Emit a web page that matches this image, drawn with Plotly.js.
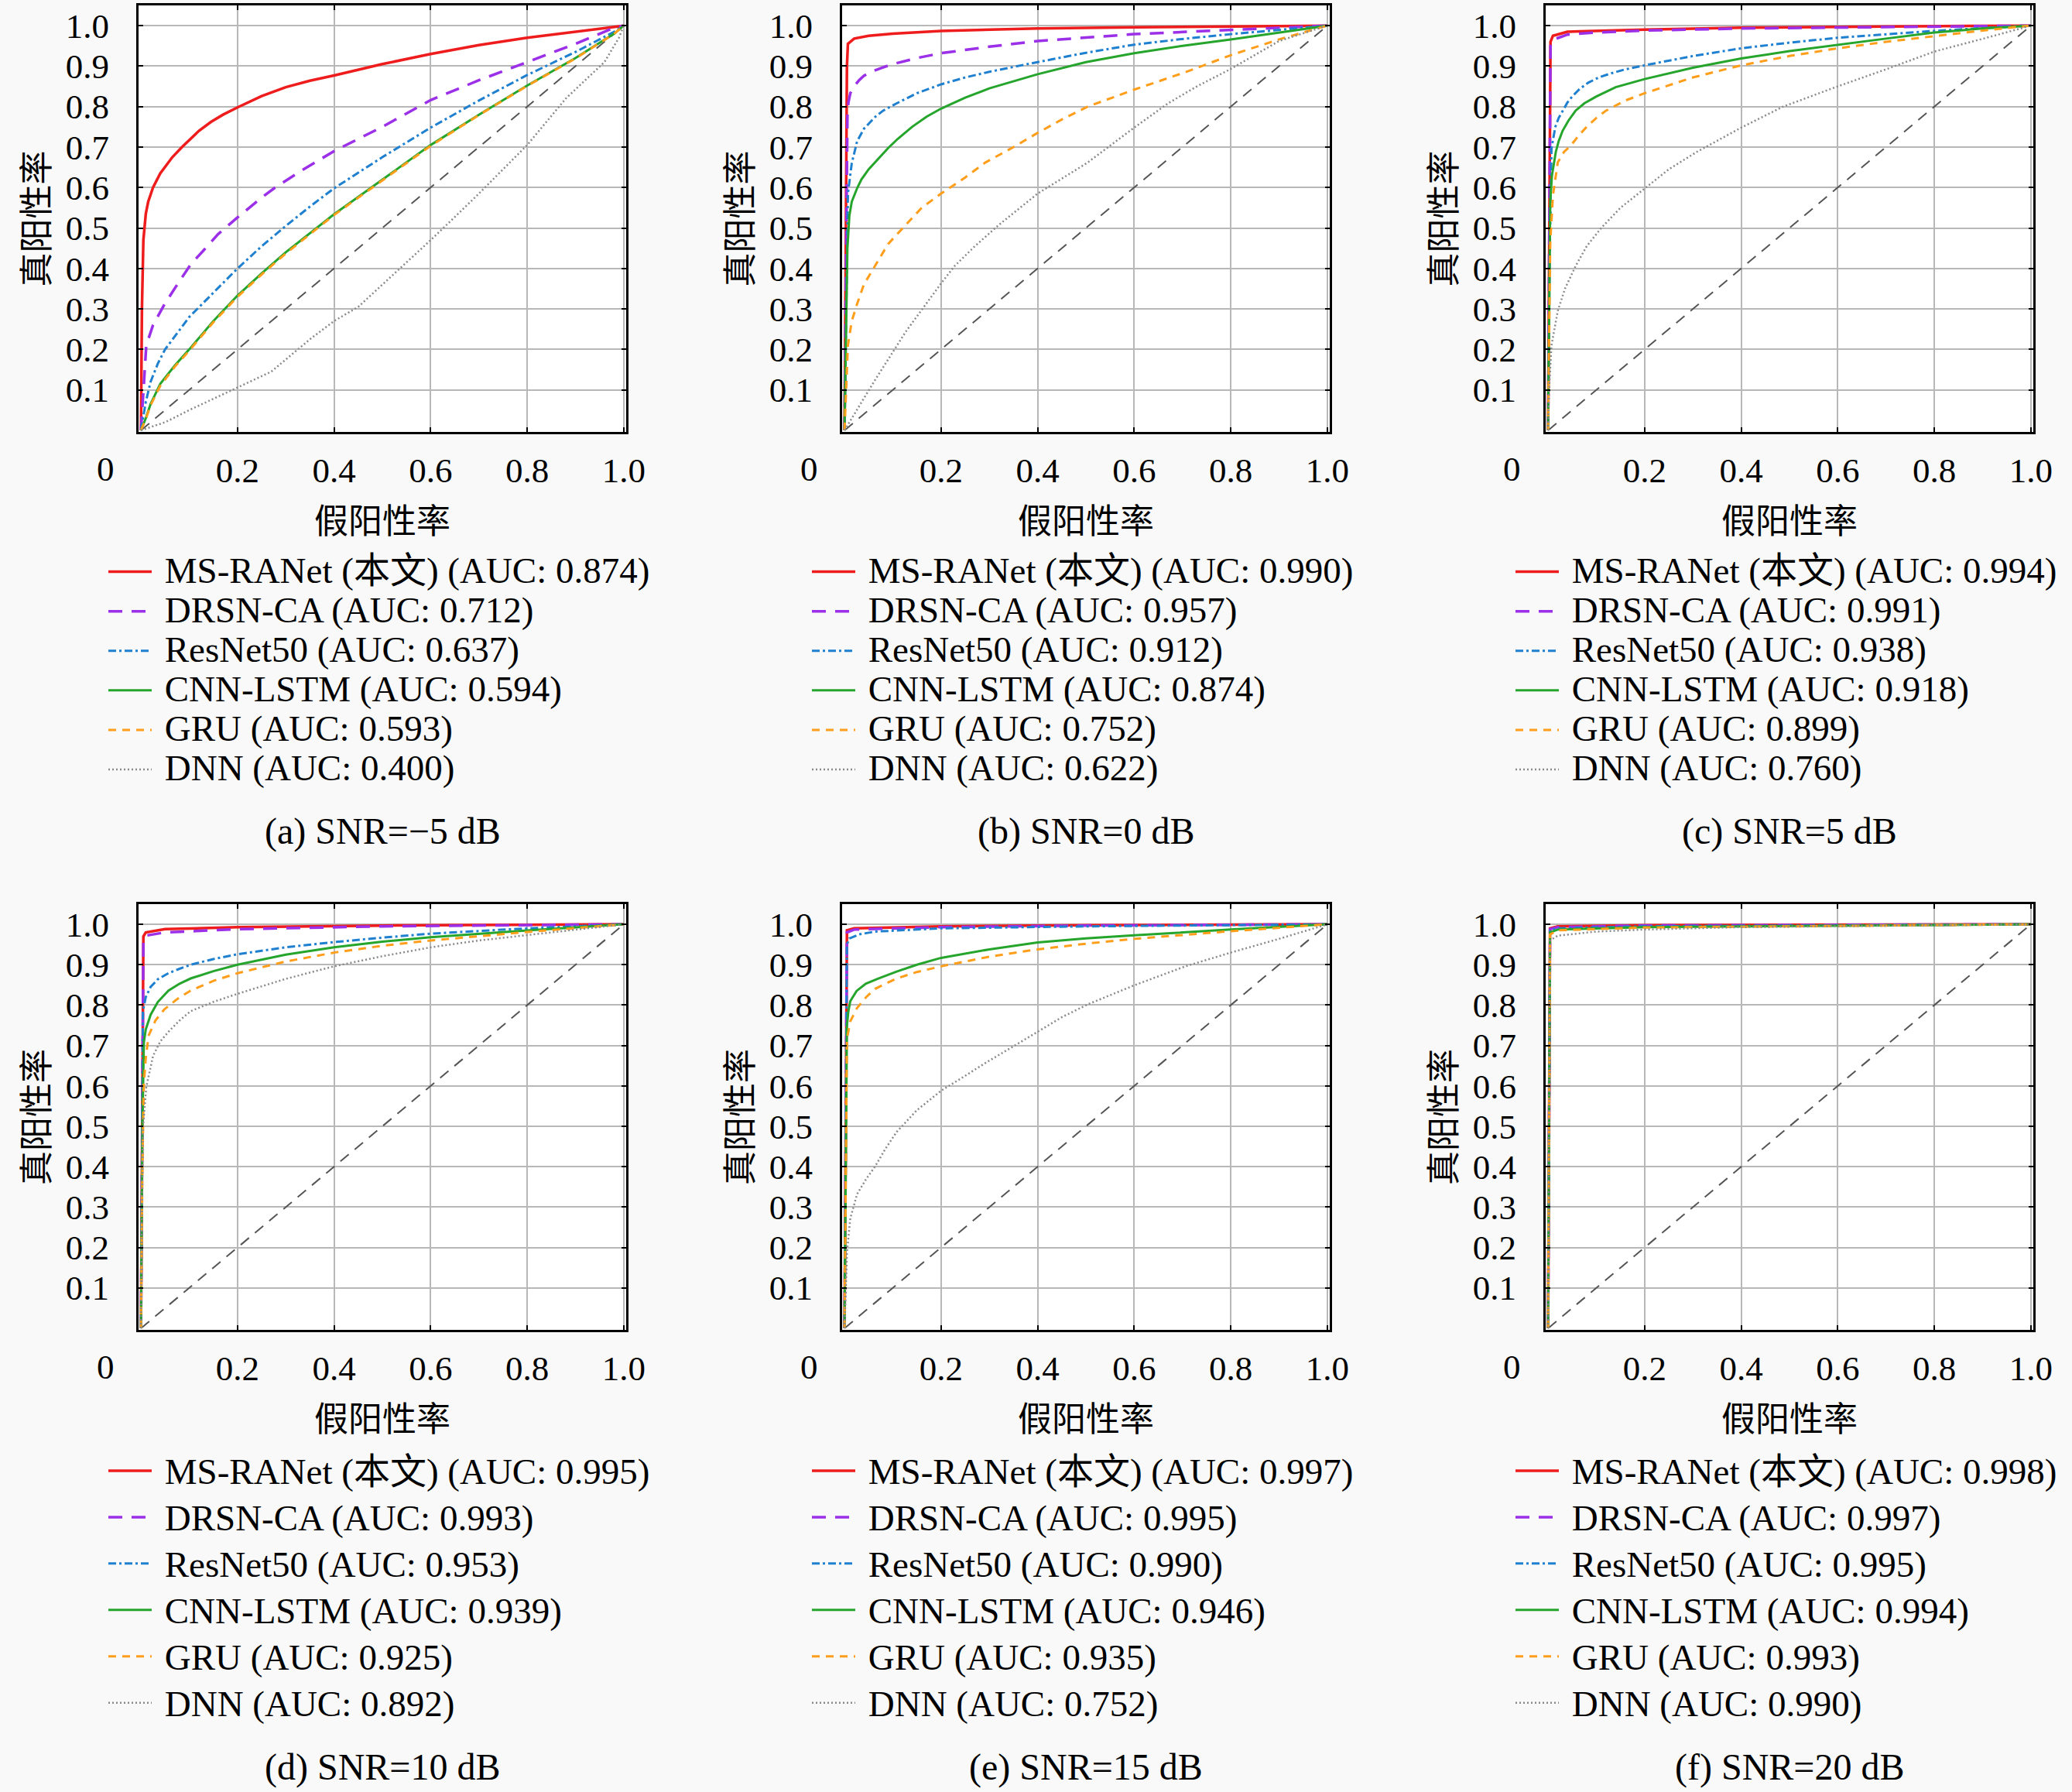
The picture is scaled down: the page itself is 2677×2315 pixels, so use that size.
<!DOCTYPE html>
<html>
<head>
<meta charset="utf-8">
<script src="https://cdn.plot.ly/plotly-3.0.1.min.js"></script>
<style>
  html, body { margin: 0; padding: 0; background: #f9f9f9; }
  #chart { width: 2677px; height: 2315px; }
</style>
</head>
<body>
<div id="chart"></div>
<script>
// legend order of the models
const models = ['MS-RANet (本文)', 'DRSN-CA', 'ResNet50', 'CNN-LSTM', 'GRU', 'DNN'];
const captions = ['(a) SNR=−5 dB', '(b) SNR=0 dB', '(c) SNR=5 dB',
                  '(d) SNR=10 dB', '(e) SNR=15 dB', '(f) SNR=20 dB'];
const xTickVals = [0.2, 0.4, 0.6, 0.8, 1.0];
const xTickText = ['0.2', '0.4', '0.6', '0.8', '1.0'];
const yTickVals = [0.1, 0.2, 0.3, 0.4, 0.5, 0.6, 0.7, 0.8, 0.9, 1.0];
const yTickText = ['0.1', '0.2', '0.3', '0.4', '0.5', '0.6', '0.7', '0.8', '0.9', '1.0'];
const chance = [[0, 0], [1, 1]];

// AUC per panel, in model order
const aucA = [0.874, 0.712, 0.637, 0.594, 0.593, 0.400];
const aucB = [0.990, 0.957, 0.912, 0.874, 0.752, 0.622];
const aucC = [0.994, 0.991, 0.938, 0.918, 0.899, 0.760];
const aucD = [0.995, 0.993, 0.953, 0.939, 0.925, 0.892];
const aucE = [0.997, 0.995, 0.990, 0.946, 0.935, 0.752];
const aucF = [0.998, 0.997, 0.995, 0.994, 0.993, 0.990];

// ROC points [FPR, TPR]
// (a) SNR=-5 dB
const rocA_msranet = [[0,0],[0.002,0.3],[0.005,0.47],[0.01,0.535],[0.015,0.565],[0.025,0.6],[0.04,0.635],[0.05,0.652],[0.065,0.675],[0.085,0.70],[0.1,0.718],[0.12,0.74],[0.145,0.762],[0.17,0.78],[0.2,0.798],[0.25,0.826],[0.3,0.848],[0.35,0.864],[0.4,0.877],[0.5,0.905],[0.6,0.93],[0.7,0.952],[0.8,0.97],[0.9,0.985],[1,1]];
const rocA_drsn = [[0,0],[0.006,0.124],[0.011,0.21],[0.025,0.26],[0.048,0.31],[0.075,0.36],[0.103,0.41],[0.13,0.445],[0.16,0.485],[0.2,0.526],[0.25,0.575],[0.278,0.60],[0.33,0.64],[0.4,0.69],[0.5,0.75],[0.6,0.816],[0.7,0.865],[0.8,0.91],[0.9,0.955],[0.98,0.995],[1,1]];
const rocA_resnet = [[0,0],[0.01,0.07],[0.02,0.12],[0.035,0.165],[0.05,0.2],[0.075,0.24],[0.1,0.28],[0.15,0.34],[0.2,0.40],[0.25,0.455],[0.3,0.505],[0.35,0.553],[0.4,0.598],[0.5,0.675],[0.6,0.748],[0.7,0.815],[0.8,0.878],[0.9,0.935],[0.98,0.985],[1,1]];
const rocA_cnnlstm = [[0,0],[0.01,0.03],[0.02,0.065],[0.04,0.115],[0.07,0.16],[0.1,0.2],[0.15,0.27],[0.2,0.333],[0.25,0.388],[0.3,0.44],[0.4,0.534],[0.5,0.62],[0.6,0.705],[0.7,0.78],[0.8,0.852],[0.9,0.92],[0.98,0.98],[1,1]];
const rocA_gru = [[0,0],[0.01,0.028],[0.02,0.062],[0.04,0.11],[0.07,0.157],[0.1,0.197],[0.15,0.267],[0.2,0.33],[0.25,0.385],[0.3,0.437],[0.4,0.532],[0.5,0.618],[0.6,0.703],[0.7,0.779],[0.8,0.851],[0.9,0.919],[0.98,0.98],[1,1]];
const rocA_dnn = [[0,0],[0.05,0.02],[0.1,0.05],[0.15,0.078],[0.2,0.105],[0.27,0.145],[0.35,0.225],[0.4,0.27],[0.45,0.305],[0.5,0.36],[0.55,0.415],[0.6,0.47],[0.65,0.527],[0.7,0.585],[0.75,0.645],[0.8,0.705],[0.88,0.82],[0.96,0.91],[0.99,0.97],[1,1]];
// (b) SNR=0 dB
const rocB_msranet = [[0,0],[0.003,0.5],[0.005,0.9],[0.007,0.955],[0.02,0.968],[0.05,0.975],[0.1,0.98],[0.2,0.987],[0.4,0.993],[0.6,0.996],[0.8,0.998],[1,1]];
const rocB_drsn = [[0,0],[0.004,0.6],[0.006,0.78],[0.008,0.81],[0.012,0.833],[0.02,0.85],[0.03,0.865],[0.04,0.876],[0.053,0.885],[0.075,0.895],[0.1,0.905],[0.15,0.92],[0.2,0.932],[0.3,0.948],[0.4,0.962],[0.6,0.979],[0.8,0.99],[1,1]];
const rocB_resnet = [[0,0],[0.003,0.3],[0.007,0.585],[0.015,0.66],[0.026,0.714],[0.04,0.745],[0.063,0.774],[0.08,0.79],[0.108,0.808],[0.15,0.833],[0.2,0.855],[0.25,0.872],[0.3,0.886],[0.4,0.91],[0.5,0.933],[0.6,0.953],[0.7,0.967],[0.8,0.979],[0.9,0.99],[1,1]];
const rocB_cnnlstm = [[0,0],[0.004,0.3],[0.006,0.45],[0.01,0.53],[0.015,0.565],[0.026,0.598],[0.035,0.62],[0.05,0.645],[0.07,0.672],[0.09,0.697],[0.11,0.72],[0.14,0.75],[0.17,0.775],[0.2,0.795],[0.25,0.822],[0.3,0.845],[0.4,0.88],[0.5,0.91],[0.6,0.932],[0.7,0.95],[0.8,0.966],[0.9,0.983],[1,1]];
const rocB_gru = [[0,0],[0.003,0.1],[0.007,0.21],[0.015,0.27],[0.026,0.312],[0.04,0.36],[0.063,0.406],[0.09,0.46],[0.127,0.508],[0.16,0.55],[0.2,0.585],[0.25,0.625],[0.292,0.662],[0.35,0.7],[0.4,0.735],[0.45,0.768],[0.504,0.8],[0.6,0.842],[0.706,0.885],[0.8,0.927],[0.9,0.966],[1,1]];
const rocB_dnn = [[0,0],[0.03,0.06],[0.063,0.124],[0.127,0.244],[0.2,0.363],[0.228,0.406],[0.27,0.455],[0.32,0.508],[0.4,0.585],[0.504,0.662],[0.6,0.748],[0.67,0.808],[0.73,0.85],[0.8,0.893],[0.9,0.962],[1,1]];
// (c) SNR=5 dB
const rocC_msranet = [[0,0],[0.003,0.6],[0.005,0.96],[0.01,0.975],[0.04,0.985],[0.2,0.99],[0.4,0.995],[0.7,0.998],[1,1]];
const rocC_drsn = [[0,0],[0.003,0.6],[0.005,0.95],[0.01,0.965],[0.04,0.978],[0.1,0.983],[0.2,0.988],[0.4,0.993],[0.7,0.997],[1,1]];
const rocC_resnet = [[0,0],[0.003,0.4],[0.007,0.697],[0.015,0.75],[0.022,0.772],[0.03,0.79],[0.04,0.81],[0.05,0.825],[0.065,0.843],[0.083,0.859],[0.105,0.872],[0.13,0.882],[0.16,0.892],[0.2,0.902],[0.3,0.925],[0.4,0.944],[0.5,0.958],[0.6,0.97],[0.7,0.979],[0.8,0.987],[0.9,0.994],[1,1]];
const rocC_cnnlstm = [[0,0],[0.003,0.4],[0.0045,0.568],[0.008,0.63],[0.016,0.688],[0.022,0.715],[0.03,0.74],[0.042,0.765],[0.057,0.79],[0.075,0.808],[0.1,0.825],[0.14,0.848],[0.2,0.868],[0.3,0.896],[0.4,0.919],[0.5,0.937],[0.6,0.953],[0.7,0.968],[0.8,0.983],[0.9,0.993],[1,1]];
const rocC_gru = [[0,0],[0.002,0.2],[0.0045,0.466],[0.01,0.58],[0.02,0.662],[0.033,0.688],[0.048,0.705],[0.063,0.728],[0.08,0.75],[0.1,0.772],[0.12,0.79],[0.16,0.815],[0.2,0.833],[0.3,0.872],[0.4,0.902],[0.5,0.925],[0.6,0.944],[0.7,0.96],[0.8,0.974],[0.9,0.988],[1,1]];
const rocC_dnn = [[0,0],[0.002,0.1],[0.007,0.21],[0.02,0.295],[0.035,0.35],[0.057,0.406],[0.08,0.455],[0.11,0.5],[0.15,0.55],[0.2,0.598],[0.25,0.645],[0.308,0.688],[0.4,0.748],[0.487,0.8],[0.6,0.85],[0.702,0.893],[0.8,0.936],[0.908,0.97],[1,1]];
// (d) SNR=10 dB
const rocD_msranet = [[0,0],[0.003,0.6],[0.005,0.97],[0.01,0.98],[0.05,0.988],[0.2,0.993],[0.5,0.997],[1,1]];
const rocD_drsn = [[0,0],[0.003,0.6],[0.005,0.96],[0.01,0.972],[0.05,0.98],[0.2,0.988],[0.5,0.995],[1,1]];
const rocD_resnet = [[0,0],[0.002,0.5],[0.004,0.785],[0.01,0.82],[0.02,0.845],[0.035,0.864],[0.057,0.879],[0.08,0.89],[0.103,0.9],[0.15,0.914],[0.2,0.926],[0.3,0.943],[0.4,0.956],[0.5,0.967],[0.6,0.977],[0.8,0.99],[1,1]];
const rocD_cnnlstm = [[0,0],[0.003,0.5],[0.006,0.708],[0.01,0.74],[0.02,0.776],[0.035,0.808],[0.057,0.836],[0.08,0.853],[0.103,0.866],[0.15,0.884],[0.2,0.9],[0.3,0.925],[0.4,0.943],[0.5,0.957],[0.6,0.968],[0.8,0.985],[1,1]];
const rocD_gru = [[0,0],[0.003,0.4],[0.006,0.605],[0.01,0.67],[0.016,0.725],[0.03,0.762],[0.048,0.789],[0.075,0.815],[0.103,0.836],[0.15,0.86],[0.2,0.879],[0.3,0.908],[0.4,0.93],[0.5,0.947],[0.6,0.96],[0.8,0.981],[1,1]];
const rocD_dnn = [[0,0],[0.002,0.3],[0.004,0.494],[0.011,0.597],[0.025,0.674],[0.04,0.71],[0.057,0.734],[0.08,0.762],[0.103,0.785],[0.15,0.808],[0.2,0.828],[0.3,0.865],[0.4,0.896],[0.5,0.921],[0.6,0.943],[0.7,0.96],[0.8,0.973],[0.9,0.987],[1,1]];
// (e) SNR=15 dB
const rocE_msranet = [[0,0],[0.003,0.6],[0.005,0.985],[0.02,0.99],[0.2,0.995],[0.5,0.998],[1,1]];
const rocE_drsn = [[0,0],[0.003,0.6],[0.005,0.98],[0.02,0.987],[0.2,0.993],[0.5,0.997],[1,1]];
const rocE_resnet = [[0,0],[0.003,0.5],[0.005,0.95],[0.01,0.965],[0.03,0.975],[0.063,0.982],[0.2,0.99],[0.5,0.995],[1,1]];
const rocE_cnnlstm = [[0,0],[0.003,0.5],[0.005,0.75],[0.008,0.785],[0.012,0.81],[0.025,0.835],[0.044,0.853],[0.07,0.866],[0.108,0.883],[0.15,0.9],[0.2,0.917],[0.3,0.938],[0.4,0.955],[0.5,0.965],[0.6,0.973],[0.8,0.987],[1,1]];
const rocE_gru = [[0,0],[0.003,0.4],[0.005,0.716],[0.012,0.76],[0.026,0.793],[0.045,0.82],[0.063,0.84],[0.085,0.853],[0.108,0.866],[0.15,0.882],[0.2,0.896],[0.3,0.92],[0.4,0.938],[0.5,0.952],[0.6,0.964],[0.8,0.983],[1,1]];
const rocE_dnn = [[0,0],[0.003,0.1],[0.005,0.187],[0.012,0.272],[0.026,0.332],[0.045,0.37],[0.063,0.4],[0.085,0.445],[0.108,0.486],[0.15,0.54],[0.2,0.588],[0.25,0.625],[0.292,0.657],[0.35,0.698],[0.4,0.734],[0.45,0.77],[0.504,0.802],[0.6,0.849],[0.706,0.896],[0.8,0.93],[0.9,0.964],[1,1]];
// (f) SNR=20 dB
const rocF_msranet = [[0,0],[0.004,0.99],[0.02,0.995],[0.2,0.998],[1,1]];
const rocF_drsn = [[0,0],[0.004,0.988],[0.02,0.993],[0.2,0.997],[1,1]];
const rocF_resnet = [[0,0],[0.004,0.985],[0.02,0.99],[0.2,0.995],[1,1]];
const rocF_cnnlstm = [[0,0],[0.004,0.98],[0.02,0.987],[0.2,0.993],[1,1]];
const rocF_gru = [[0,0],[0.004,0.975],[0.02,0.985],[0.2,0.992],[1,1]];
const rocF_dnn = [[0,0],[0.004,0.96],[0.02,0.972],[0.1,0.982],[0.2,0.987],[0.4,0.993],[1,1]];

const panels = [
  {auc: aucA, rocs: [rocA_msranet, rocA_drsn, rocA_resnet, rocA_cnnlstm, rocA_gru, rocA_dnn]},
  {auc: aucB, rocs: [rocB_msranet, rocB_drsn, rocB_resnet, rocB_cnnlstm, rocB_gru, rocB_dnn]},
  {auc: aucC, rocs: [rocC_msranet, rocC_drsn, rocC_resnet, rocC_cnnlstm, rocC_gru, rocC_dnn]},
  {auc: aucD, rocs: [rocD_msranet, rocD_drsn, rocD_resnet, rocD_cnnlstm, rocD_gru, rocD_dnn]},
  {auc: aucE, rocs: [rocE_msranet, rocE_drsn, rocE_resnet, rocE_cnnlstm, rocE_gru, rocE_dnn]},
  {auc: aucF, rocs: [rocF_msranet, rocF_drsn, rocF_resnet, rocF_cnnlstm, rocF_gru, rocF_dnn]},
];

// styles
const lineStyles = [
  {color: '#ee1c1c', width: 3.5, dash: 'solid'},
  {color: '#9b30e8', width: 3.5, dash: '18px,12px'},
  {color: '#1f80d0', width: 3, dash: '10px,4px,3px,4px'},
  {color: '#26a52c', width: 3, dash: 'solid'},
  {color: '#ff9e1b', width: 3, dash: '10px,8px'},
  {color: '#8a8a8a', width: 2.5, dash: '2px,3px'},
];
const FONT = 'Liberation Serif, Noto Sans CJK SC, serif';
const W = 2677, H = 2315;
const colX = [[179, 809], [1088, 1718], [1997, 2627]];
const rowY = [[7, 558], [1168, 1718]];
const legendFont = [37, 43.8];
const legendTop = [708, 1865];
const legendLeft = [135, 1044, 1953];

const traces = [];
const layout = {
  width: W, height: H,
  margin: {l: 0, r: 0, t: 0, b: 0},
  paper_bgcolor: '#f9f9f9',
  plot_bgcolor: '#ffffff',
  font: {family: FONT, size: 44, color: '#000'},
  annotations: [],
};

panels.forEach(function(p, i) {
  let r = Math.floor(i / 3), c = i % 3;
  let n = i === 0 ? '' : String(i + 1);
  let legId = i === 0 ? 'legend' : 'legend' + (i + 1);

  traces.push({
    x: chance.map(d => d[0]), y: chance.map(d => d[1]),
    xaxis: 'x' + n, yaxis: 'y' + n, mode: 'lines',
    line: {color: '#555', width: 2, dash: '14px,10px'},
    showlegend: false, hoverinfo: 'skip'
  });

  p.rocs.forEach(function(roc, m) {
    traces.push({
      x: roc.map(d => d[0]), y: roc.map(d => d[1]),
      xaxis: 'x' + n, yaxis: 'y' + n, mode: 'lines',
      line: lineStyles[m],
      name: '<span style="font-size:47px">\u00a0' + models[m] + ' (AUC: ' + p.auc[m].toFixed(3) + ')</span>',
      legend: legId
    });
  });

  layout['xaxis' + n] = {
    domain: [colX[c][0] / W, colX[c][1] / W],
    anchor: 'y' + n,
    range: [-0.005, 1.005],
    tickvals: xTickVals, ticktext: xTickText,
    ticks: 'inside', ticklen: 6, tickwidth: 2, tickcolor: '#000',
    ticklabelstandoff: 8,
    showgrid: true, gridcolor: '#b8b8b8', gridwidth: 2,
    zeroline: false,
    showline: true, linecolor: '#000', linewidth: 3, mirror: 'ticks',
    tickfont: {family: FONT, size: 45, color: '#000'},
    title: {text: '假阳性率', font: {family: FONT, size: 44, color: '#000'}, standoff: 27}
  };
  layout['yaxis' + n] = {
    domain: [1 - rowY[r][1] / H, 1 - rowY[r][0] / H],
    anchor: 'x' + n,
    range: [-0.004, 1.05],
    tickvals: yTickVals, ticktext: yTickText,
    ticks: 'inside', ticklen: 6, tickwidth: 2, tickcolor: '#000',
    ticklabelstandoff: 26,
    showgrid: true, gridcolor: '#b8b8b8', gridwidth: 2,
    zeroline: false,
    showline: true, linecolor: '#000', linewidth: 3, mirror: 'ticks',
    tickfont: {family: FONT, size: 45, color: '#000'},
    title: {text: '真阳性率', font: {family: FONT, size: 44, color: '#000'}, standoff: 8}
  };

  layout[legId] = {
    x: legendLeft[c] / W, y: 1 - legendTop[r] / H,
    xanchor: 'left', yanchor: 'top',
    bgcolor: 'rgba(0,0,0,0)', borderwidth: 0,
    font: {family: FONT, size: legendFont[r], color: '#000'},
    itemwidth: 56, tracegroupgap: 0
  };

  // shared origin label sits left of the box
  layout.annotations.push({
    xref: 'x' + n + ' domain', yref: 'y' + n + ' domain',
    x: -43 / 630, y: -48 / 551, xanchor: 'center', yanchor: 'middle',
    text: '0', showarrow: false, font: {family: FONT, size: 45, color: '#000'}
  });
  layout.annotations.push({
    xref: 'x' + n + ' domain', yref: 'y' + n + ' domain',
    x: 0.5, y: r === 0 ? -516 / 551 : -565 / 550,
    xanchor: 'center', yanchor: 'middle',
    text: captions[i], showarrow: false, font: {family: FONT, size: 48, color: '#000'}
  });
});

Plotly.newPlot('chart', traces, layout, {staticPlot: true});
</script>
</body>
</html>
